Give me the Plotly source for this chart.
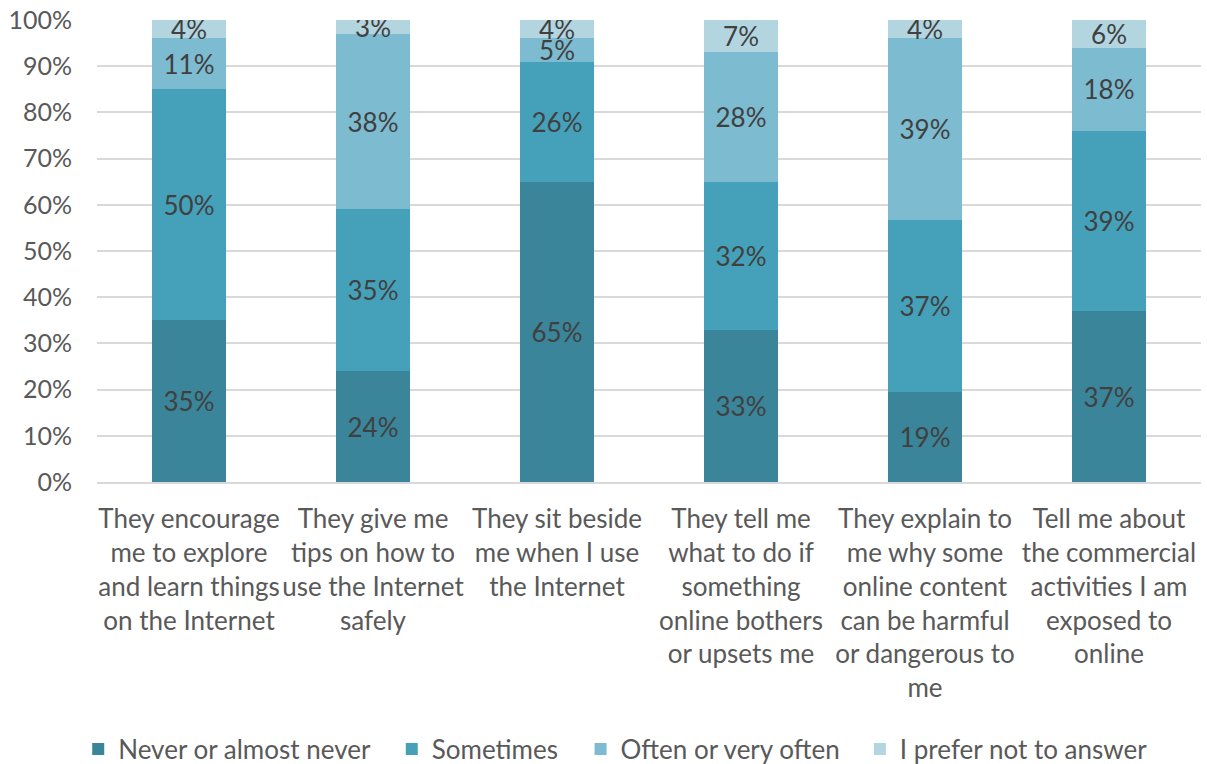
import plotly.graph_objects as go

categories = [
    "They encourage<br>me to explore<br>and learn things<br>on the Internet",
    "They give me<br>tips on how to<br>use the Internet<br>safely",
    "They sit beside<br>me when I use<br>the Internet",
    "They tell me<br>what to do if<br>something<br>online bothers<br>or upsets me",
    "They explain to<br>me why some<br>online content<br>can be harmful<br>or dangerous to<br>me",
    "Tell me about<br>the commercial<br>activities I am<br>exposed to<br>online",
]
never = [35, 24, 65, 33, 19.4, 37]
sometimes = [50, 35, 26, 32, 37.4, 39]
often = [11, 38, 5, 28, 39.4, 18]
prefer = [4, 3, 4, 7, 3.8, 6]

series = [
    ("Never or almost never", never, "#3A8599"),
    ("Sometimes", sometimes, "#45A0B9"),
    ("Often or very often", often, "#7CBBD0"),
    ("I prefer not to answer", prefer, "#B3D5E0"),
]
legend_ids = ["legend", "legend2", "legend3", "legend4"]
legend_x = [-0.017, 0.267, 0.438, 0.691]

fig = go.Figure()
for (name, vals, col), lid in zip(series, legend_ids):
    fig.add_trace(go.Bar(
        x=categories, y=vals, name=name, legend=lid, showlegend=True,
        marker=dict(color=col, line=dict(width=0)),
        text=[f"{round(v):.0f}%" for v in vals], textposition="inside",
        insidetextanchor="middle", textangle=0, constraintext="none",
        textfont=dict(color="#404040", size=26, family="Lato"),
        width=0.4,
    ))

layout_legends = {}
for lid, lx in zip(legend_ids, legend_x):
    layout_legends[lid] = dict(
        orientation="h", x=lx, xanchor="left", y=-0.578, yanchor="middle",
        font=dict(size=26, color="#595959", family="Lato"),
        bgcolor="rgba(0,0,0,0)", itemwidth=30, visible=True,
    )

fig.update_layout(
    barmode="stack",
    showlegend=True,
    width=1207, height=764,
    margin=dict(l=97, r=6, t=20, b=282, autoexpand=False),
    plot_bgcolor="white", paper_bgcolor="white",
    font=dict(family="Lato", color="#595959", size=24),
    uniformtext=dict(mode=False),
    **layout_legends,
)
fig.update_yaxes(range=[0, 100], tickvals=list(range(0, 101, 10)),
                 ticktext=[f"{v}%" for v in range(0, 101, 10)],
                 showgrid=True, gridcolor="#D9D9D9", gridwidth=2,
                 zeroline=False, showline=False, ticks="", ticklabelstandoff=24,
                 automargin=False,
                 tickfont=dict(size=25, color="#595959"))
fig.update_xaxes(showline=True, linecolor="#D9D9D9", linewidth=2, ticks="",
                 automargin=False, tickangle=0, ticklabelstandoff=13,
                 tickfont=dict(size=26, color="#595959"))

fig.write_html("out.html", config={"displayModeBar": False},
               post_script="document.body.style.margin='0';")
